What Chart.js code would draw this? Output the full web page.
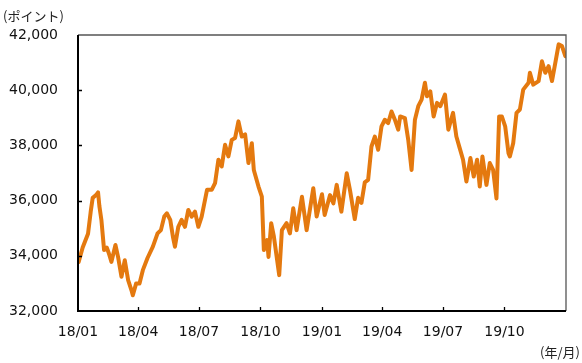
<!DOCTYPE html>
<html><head><meta charset="utf-8">
<script src="https://cdn.jsdelivr.net/npm/chart.js@4"></script>
<style>html,body{margin:0;padding:0;background:#fff}#wrap{width:582px;height:363px}</style>
</head><body><div id="wrap"><canvas id="c" width="582" height="363"></canvas></div>
<script>
// days since 2018/01/01
const dayOffsets = [1,7,15,19,22,27,30,32,35,39,43,46,50,56,60,65,70,75,80,82,87,92,97,104,112,119,124,129,133,138,142,145,150,155,160,165,170,175,180,185,193,200,205,210,215,220,225,230,235,240,245,250,255,260,263,270,275,278,283,285,289,293,301,305,
  312,317,322,327,335,342,352,357,365,369,377,382,387,394,402,407,414,419,424,429,434,439,444,449,454,459,464,469,474,479,482,489,494,499,504,509,514,519,522,527,532,537,542,549,554,561,566,571,576,581,587,592,597,601,605,611,616,621,626,630,634,639,644,646,651,656,661,666,674,676,681,689,694,699,704,709,714,719,724,729];
const values = [33780,34300,34800,35600,36100,36200,36300,35800,35300,34210,34300,34100,33780,34390,33950,33240,33840,33120,32750,32570,33000,33000,33480,33920,34330,34810,34930,35420,35540,35300,34690,34330,35050,35300,35050,35660,35420,35600,35050,35420,36390,36390,36630,37480,37240,38020,37600,38200,38270,38870,38320,38400,37360,38080,37110,36510,36140,34210,34570,33960,35180,34700,33300,34930,
  35180,34810,35720,34930,36140,34930,36450,35420,36230,35480,36200,35900,36570,35600,36990,36360,35330,36100,35920,36660,36750,37960,38320,37840,38690,38930,38810,39230,38930,38570,39050,38990,38200,37110,38930,39420,39660,40270,39780,39960,39050,39540,39420,39840,38570,39180,38320,37900,37480,36690,37540,36870,37480,36510,37600,36570,37360,37110,36080,39050,39050,38690,37720,37600,38080,39180,39300,40020,40270,40630,40200,40330,41050,40630,40870,40330,40990,41660,41600,41230];
const tickDays = [0,90,181,273,365,455,546,638,730];
const tickLabels = ['18/01','18/04','18/07','18/10','19/01','19/04','19/07','19/10',''];
const yTicks = [32000,34000,36000,38000,40000,42000];
const yUnit = '(ポイント)';
const xUnit = '(年/月)';

const FONT = '"DejaVu Sans", "Noto Sans CJK JP", sans-serif';

const frame = {
  id: 'frame',
  afterDatasetsDraw(chart) {
    const {ctx, chartArea: a, scales: {x, y}} = chart;
    ctx.save();
    ctx.strokeStyle = '#555';
    ctx.lineWidth = 1.3;
    ctx.beginPath();
    ctx.moveTo(a.left, a.top); ctx.lineTo(a.right, a.top); ctx.lineTo(a.right, a.bottom);
    ctx.stroke();
    ctx.strokeStyle = '#000';
    ctx.lineWidth = 2;
    ctx.beginPath();
    ctx.moveTo(a.left, a.top); ctx.lineTo(a.left, a.bottom); ctx.lineTo(a.right, a.bottom);
    ctx.stroke();
    ctx.lineWidth = 1.3;
    ctx.beginPath();
    tickDays.slice(1, -1).forEach(d => {
      const px = Math.round(x.getPixelForValue(d)) + 0.5;
      ctx.moveTo(px, a.bottom); ctx.lineTo(px, a.bottom - 4);
    });
    yTicks.slice(1, -1).forEach(v => {
      const py = Math.round(y.getPixelForValue(v)) + 0.5;
      ctx.moveTo(a.left, py); ctx.lineTo(a.left + 4, py);
    });
    ctx.stroke();
    ctx.fillStyle = '#222';
    ctx.font = '13px "Noto Sans CJK JP", sans-serif';
    ctx.textBaseline = 'middle';
    ctx.textAlign = 'left';
    ctx.fillText(yUnit, 3, 16);
    ctx.textAlign = 'right';
    ctx.fillText(xUnit, 580, 352);
    ctx.restore();
  }
};

new Chart(document.getElementById('c'), {
  type: 'line',
  data: {
    datasets: [{
      data: dayOffsets.map((d, i) => ({x: d, y: values[i]})),
      borderColor: '#E4790F',
      borderWidth: 4,
      pointRadius: 0,
      tension: 0,
      borderJoinStyle: 'round',
      borderCapStyle: 'round',
      fill: false
    }]
  },
  options: {
    responsive: false,
    animation: false,
    devicePixelRatio: 1,
    layout: {padding: {left: 0, right: 16, top: 35, bottom: 0}},
    plugins: {legend: {display: false}, tooltip: {enabled: false}},
    scales: {
      x: {
        type: 'linear', min: 0, max: 730,
        afterBuildTicks: s => { s.ticks = tickDays.map(v => ({value: v})); },
        afterFit: s => { s.height = 52; },
        grid: {display: false, drawTicks: false},
        border: {display: false},
        ticks: {
          autoSkip: false, maxRotation: 0, padding: 13,
          color: '#111', font: {family: FONT, size: 14},
          callback: v => tickLabels[tickDays.indexOf(v)] ?? ''
        }
      },
      y: {
        min: 32000, max: 42000,
        afterBuildTicks: s => { s.ticks = yTicks.map(v => ({value: v})); },
        afterFit: s => { s.width = 78; },
        grid: {display: false, drawTicks: false},
        border: {display: false},
        ticks: {
          padding: 20, color: '#111', font: {family: FONT, size: 14},
          callback: v => Number(v).toLocaleString('en-US')
        }
      }
    }
  },
  plugins: [frame]
});
</script>
</body></html>
